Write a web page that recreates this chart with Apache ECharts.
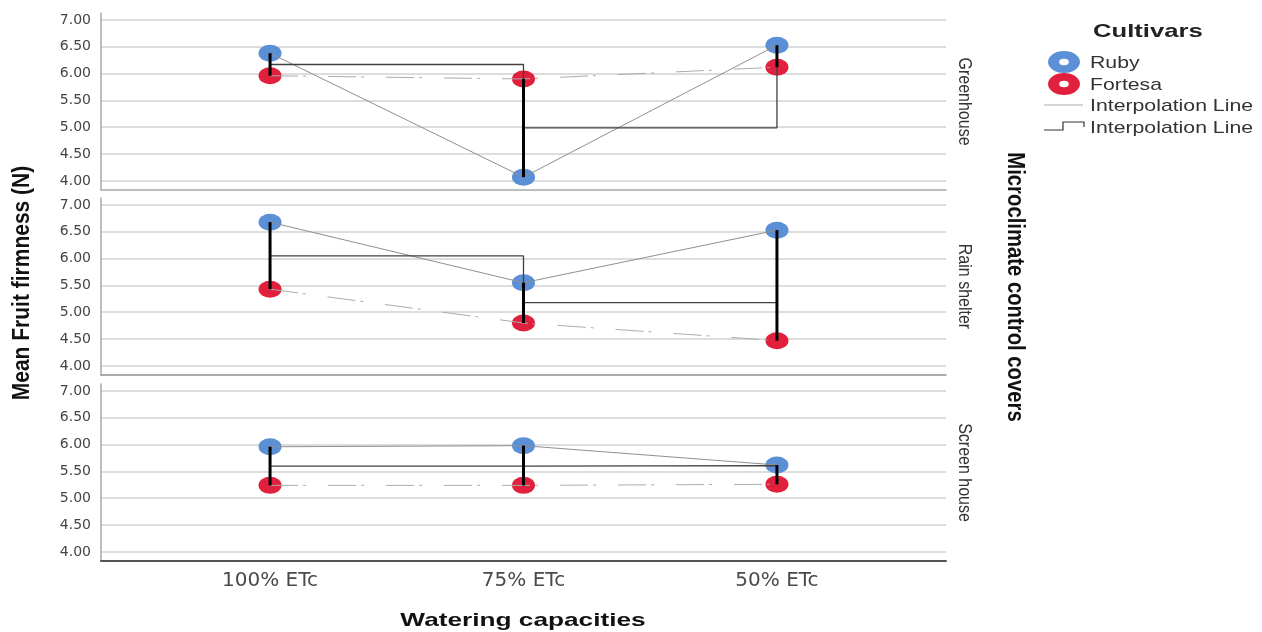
<!DOCTYPE html>
<html>
<head>
<meta charset="utf-8">
<script src="https://cdn.jsdelivr.net/npm/echarts@6/dist/echarts.min.js"></script>
<style>html,body{margin:0;padding:0;background:#fff}#c{width:1262px;height:632px}</style>
</head>
<body>
<div id="c"></div>
<script>
// ---- data ----
const categories = ['100% ETc', '75% ETc', '50% ETc'];
const panels = ['Greenhouse', 'Rain shelter', 'Screen house'];
const cultivars = ['Ruby', 'Fortesa'];

const rubyGreenhouse = [6.38, 4.07, 6.53];
const fortesaGreenhouse = [5.96, 5.90, 6.12];
const meanGreenhouse = [6.17, 4.99, 6.33];

const rubyRainShelter = [6.68, 5.55, 6.53];
const fortesaRainShelter = [5.43, 4.80, 4.47];
const meanRainShelter = [6.05, 5.18, 5.50];

const rubyScreenHouse = [5.96, 5.98, 5.62];
const fortesaScreenHouse = [5.24, 5.24, 5.26];
const meanScreenHouse = [5.60, 5.61, 5.44];

const yMin = 3.83, yMax = 7.13, yStep = 0.5;

// ---- layout ----
const rubyData = [rubyGreenhouse, rubyRainShelter, rubyScreenHouse];
const fortesaData = [fortesaGreenhouse, fortesaRainShelter, fortesaScreenHouse];
const meanData = [meanGreenhouse, meanRainShelter, meanScreenHouse];

const gridTops = [13, 198, 384];
const gridH = 177;
const FONT = 'Arial, "Liberation Sans", sans-serif';
const WIDE = '"DejaVu Sans", Verdana, sans-serif';
const BLUE = '#5b8fd6', RED = '#e0203d';

const grids = [], xAxes = [], yAxes = [], series = [];
const isMult = (v, s) => Math.abs(v / s - Math.round(v / s)) < 1e-6;

panels.forEach((p, i) => {
  grids.push({left: 101, right: 316, top: gridTops[i], height: gridH});
  const last = i === panels.length - 1;
  xAxes.push({
    gridIndex: i, type: 'value', min: -0.667, max: 2.667,
    minInterval: 1, maxInterval: 1,
    axisLine: {show: true, onZero: false, lineStyle: {color: last ? '#555' : (i === 1 ? '#999' : '#b4b4b4'), width: last ? 2 : 1.5}},
    axisTick: {show: false},
    splitLine: {show: false},
    axisLabel: {
      show: last, color: '#4a4a4a', fontSize: 20, fontFamily: WIDE, margin: 10,
      formatter: v => isMult(v, 1) && categories[Math.round(v)] !== undefined ? categories[Math.round(v)] : ''
    }
  });
  yAxes.push({
    gridIndex: i, type: 'value', min: yMin, max: yMax,
    minInterval: yStep, maxInterval: yStep, splitNumber: 7,
    axisLine: {show: true, onZero: false, lineStyle: {color: '#a8a8a8', width: 1.5}},
    axisTick: {show: false},
    axisLabel: {
      color: '#444', fontSize: 14, fontFamily: WIDE, margin: 10,
      formatter: v => isMult(v, yStep) ? v.toFixed(2) : ''
    },
    splitLine: {show: true, showMaxLine: false, lineStyle: {color: '#d2d2d2', width: 1.5}}
  });

  const ruby = rubyData[i], fort = fortesaData[i], mean = meanData[i];
  const pts = arr => arr.map((v, j) => [j, v]);

  series.push({
    name: 'Ruby', type: 'scatter', xAxisIndex: i, yAxisIndex: i, z: 2,
    symbol: 'circle', symbolSize: [23, 17], itemStyle: {color: BLUE, opacity: 1},
    data: pts(ruby)
  });
  series.push({
    name: 'Fortesa', type: 'scatter', xAxisIndex: i, yAxisIndex: i, z: 2,
    symbol: 'circle', symbolSize: [23, 17], itemStyle: {color: RED, opacity: 1},
    data: pts(fort)
  });
  series.push({
    name: 'Ruby line', type: 'line', xAxisIndex: i, yAxisIndex: i, z: 3,
    symbol: 'none', lineStyle: {color: '#8f8f8f', width: 1}, data: pts(ruby)
  });
  series.push({
    name: 'Fortesa line', type: 'line', xAxisIndex: i, yAxisIndex: i, z: 3,
    symbol: 'none', lineStyle: {color: '#ababab', width: 1, type: [28, 5, 3, 22]}, data: pts(fort)
  });
  series.push({
    name: 'Step line', type: 'line', step: 'end', xAxisIndex: i, yAxisIndex: i, z: 3,
    symbol: 'none', lineStyle: {color: '#404040', width: 1.3}, data: pts(mean)
  });
  series.push({
    name: 'Drop', type: 'custom', xAxisIndex: i, yAxisIndex: i, z: 4,
    encode: {x: 0, y: [1, 2]},
    data: ruby.map((v, j) => [j, v, fort[j]]),
    renderItem: (params, api) => {
      const a = api.coord([api.value(0), api.value(1)]);
      const b = api.coord([api.value(0), api.value(2)]);
      return {type: 'line', shape: {x1: a[0], y1: a[1], x2: b[0], y2: b[1]},
              style: {stroke: '#000', lineWidth: 3}};
    }
  });
});

// ---- texts & legend ----
const graphic = [
  {type: 'text', x: 22, y: 283, rotation: Math.PI / 2, scaleY: 1.15,
   style: {text: 'Mean Fruit firmness (N)', font: 'bold 21px ' + FONT, fill: '#111', align: 'center', verticalAlign: 'middle'}},
  {type: 'text', x: 523, y: 621, scaleX: 1.38,
   style: {text: 'Watering capacities', font: 'bold 19px ' + FONT, fill: '#111', align: 'center', verticalAlign: 'middle'}},
  {type: 'text', x: 1014, y: 287, rotation: -Math.PI / 2, scaleY: 1.15,
   style: {text: 'Microclimate control covers', font: 'bold 20.3px ' + FONT, fill: '#111', align: 'center', verticalAlign: 'middle'}},
  {type: 'text', x: 1093, y: 32, scaleX: 1.35,
   style: {text: 'Cultivars', font: 'bold 19px ' + FONT, fill: '#222', align: 'left', verticalAlign: 'middle'}}
];
panels.forEach((p, i) => {
  graphic.push({type: 'text', x: 964, y: gridTops[i] + gridH / 2, rotation: -Math.PI / 2, scaleY: 1.15,
    style: {text: p, font: '16px ' + FONT, fill: '#333', align: 'center', verticalAlign: 'middle'}});
});
[[BLUE, 62], [RED, 84]].forEach(([c, y], k) => {
  graphic.push({type: 'circle', x: 1064, y: y, scaleX: 1.45, shape: {cx: 0, cy: 0, r: 11}, style: {fill: c}});
  graphic.push({type: 'circle', x: 1064, y: y, scaleX: 1.45, shape: {cx: 0, cy: 0, r: 3.3}, style: {fill: '#fff'}});
  graphic.push({type: 'text', x: 1090, y: y + 1, scaleX: 1.25,
    style: {text: cultivars[k], font: '17px ' + FONT, fill: '#333', align: 'left', verticalAlign: 'middle'}});
});
graphic.push({type: 'line', shape: {x1: 1044, y1: 105, x2: 1083, y2: 105}, style: {stroke: '#aaa', lineWidth: 1}});
graphic.push({type: 'text', x: 1090, y: 106, scaleX: 1.25,
  style: {text: 'Interpolation Line', font: '17px ' + FONT, fill: '#333', align: 'left', verticalAlign: 'middle'}});
graphic.push({type: 'polyline', shape: {points: [[1044, 130], [1063, 130], [1063, 122], [1084, 122], [1084, 127]]},
  style: {stroke: '#333', lineWidth: 1.2, fill: null}});
graphic.push({type: 'text', x: 1090, y: 128, scaleX: 1.25,
  style: {text: 'Interpolation Line', font: '17px ' + FONT, fill: '#333', align: 'left', verticalAlign: 'middle'}});

const chart = echarts.init(document.getElementById('c'), null, {renderer: 'canvas'});
chart.setOption({
  animation: false,
  backgroundColor: '#fff',
  grid: grids, xAxis: xAxes, yAxis: yAxes, series: series, graphic: graphic
});
</script>
</body>
</html>
